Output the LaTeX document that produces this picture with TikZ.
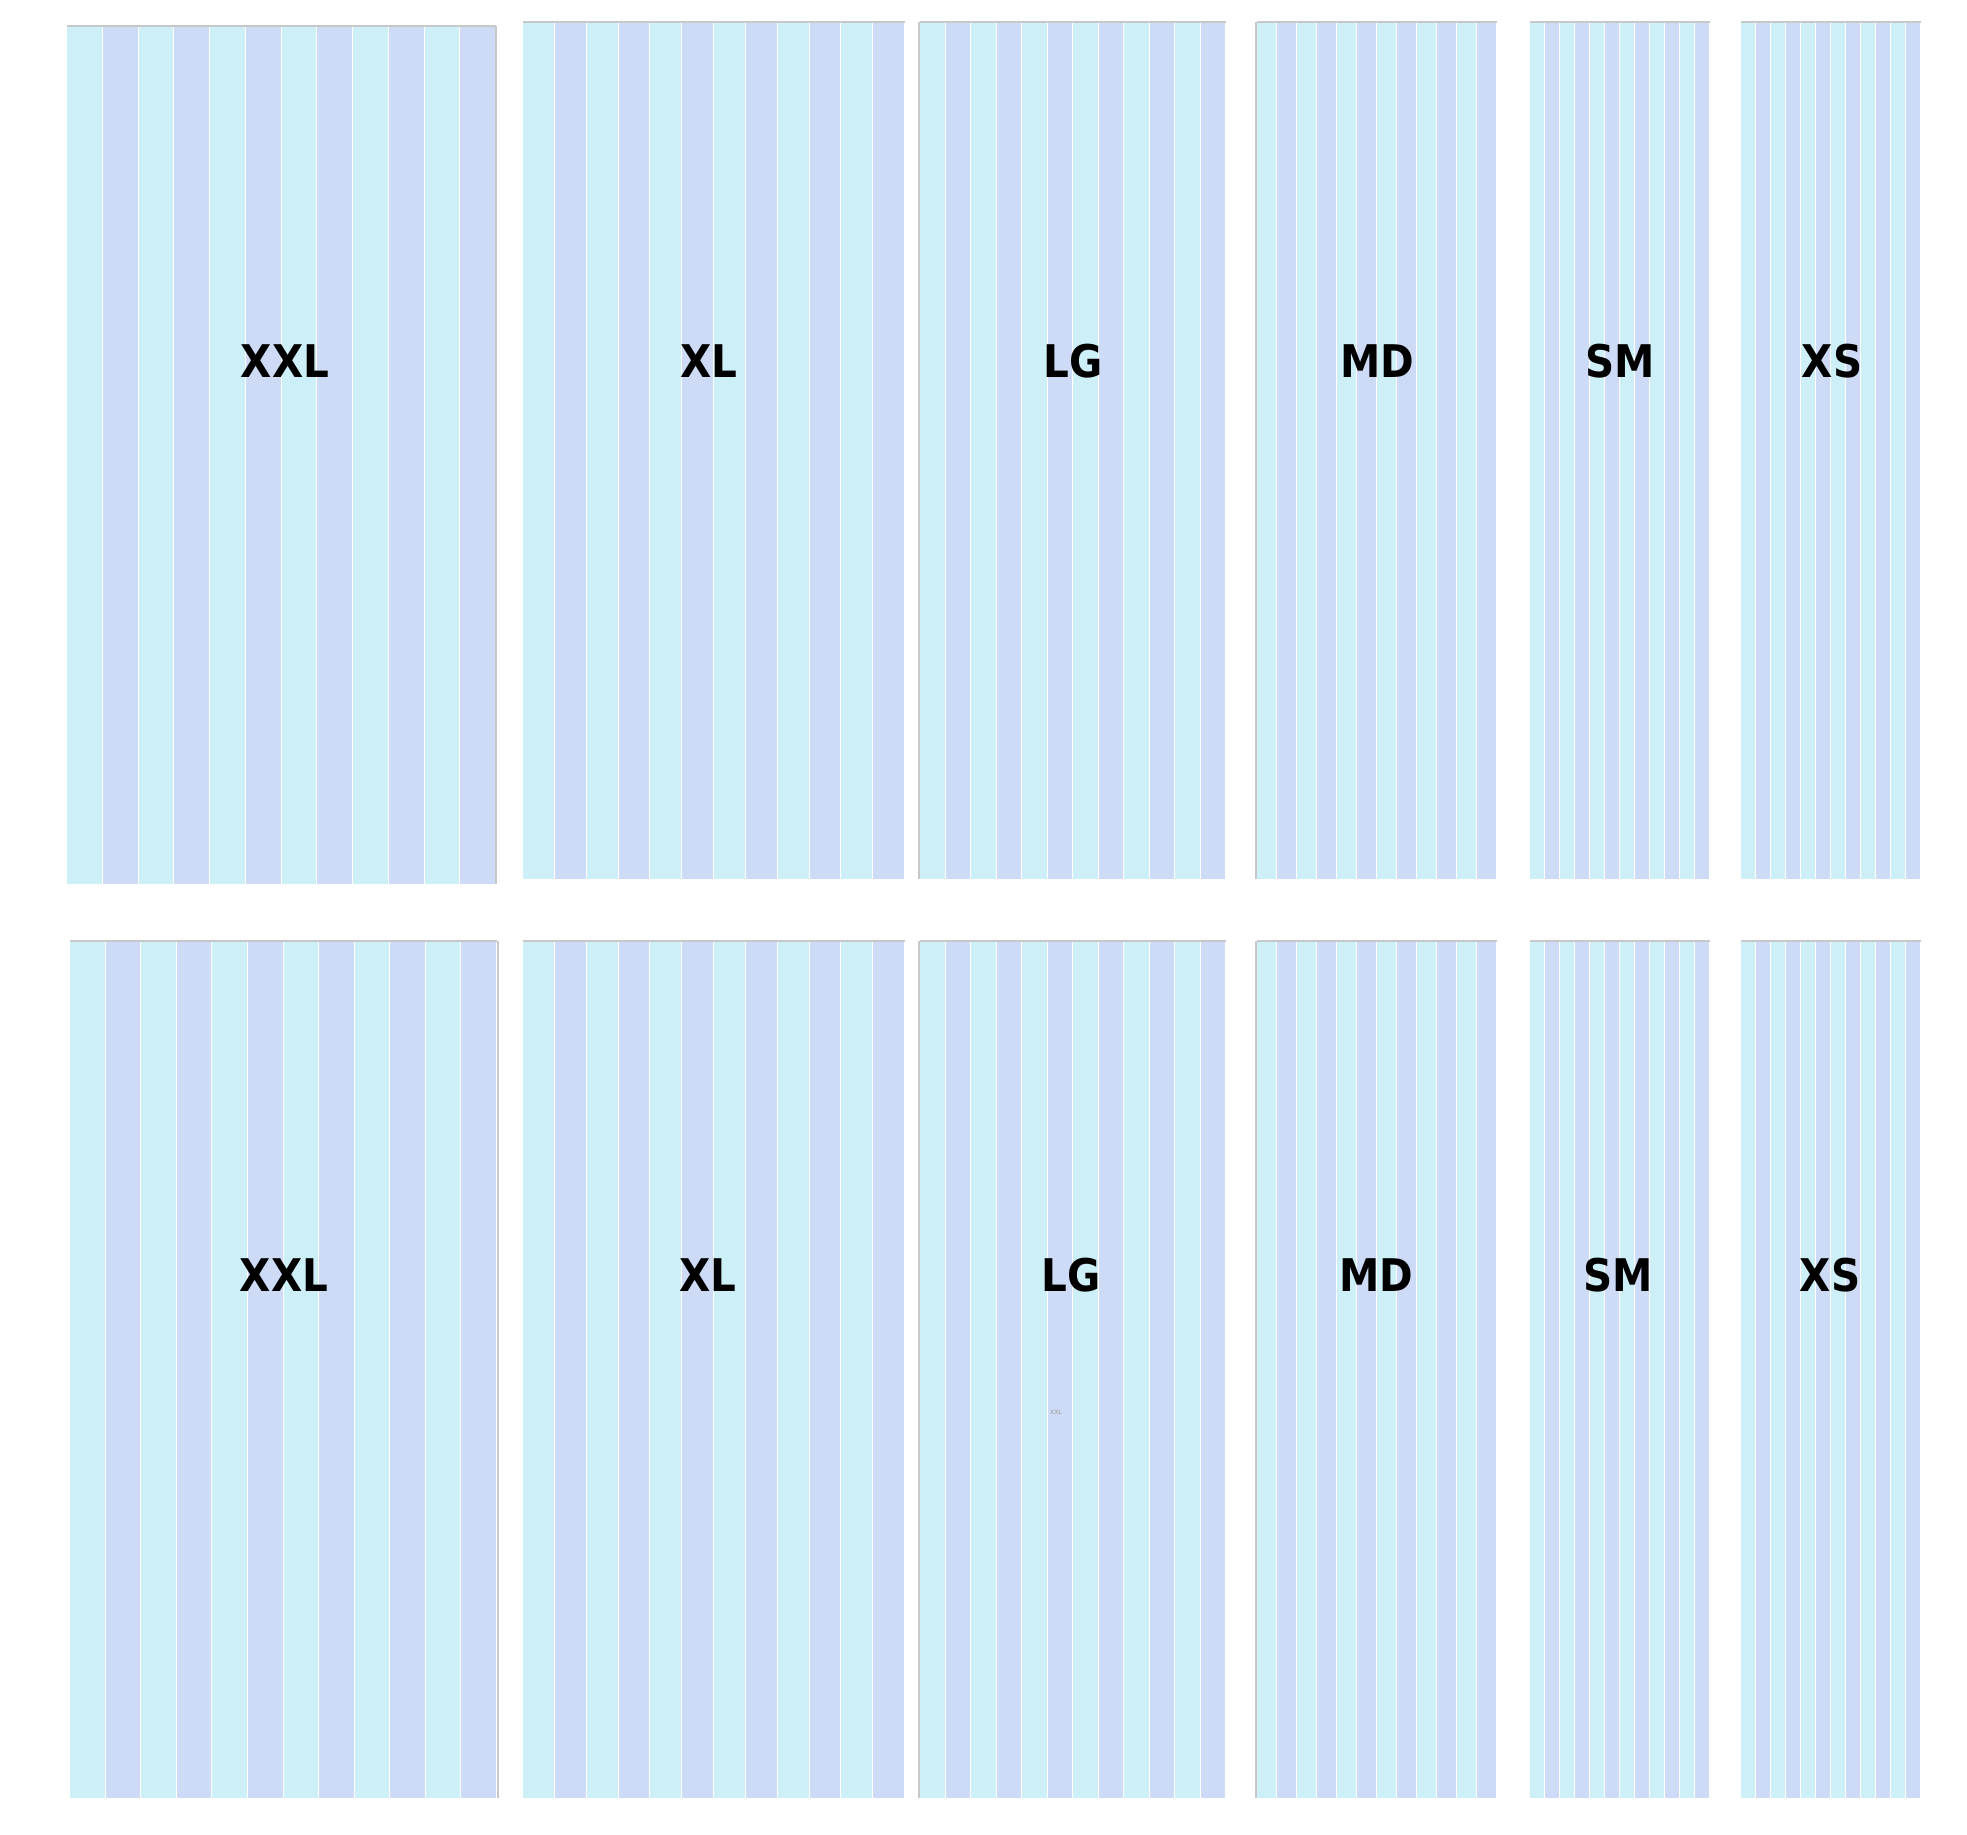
\documentclass[tikz,border=0pt]{standalone}
\usepackage{fontspec}
\setmainfont{DejaVu Sans}
\newfontfamily\condfont{DejaVu Sans Condensed}
\definecolor{stc}{HTML}{CCEFF8}
\definecolor{stl}{HTML}{CEDBF6}
\definecolor{frm}{HTML}{C8C8C8}
\tikzset{
  sizelabel/.style={font=\condfont\fontsize{45}{50}\selectfont\bfseries, text=black, inner sep=0pt},
  frameline/.style={draw=frm, line width=1.5pt},
  tinytext/.style={font=\fontsize{6}{7}\selectfont, text=gray!80, inner sep=0pt}
}
% \sizepanel{x0}{x1}{y0}{y1}{label}{name}{label x}{label y}
\newcommand{\sizepanel}[8]{%
  \pgfmathsetmacro{\pw}{(#2-#1)/12}
  \foreach \i in {0,...,11}{%
    \pgfmathtruncatemacro{\odd}{mod(\i,2)}
    \ifnum\odd=0 \def\fc{stc}\else\def\fc{stl}\fi
    \fill[\fc] ({#1+\i*\pw},#3) rectangle ({#1+(\i+1)*\pw-1},#4);
  }
  \draw[frameline] (#1,#3) -- (#2,#3);
  \node[sizelabel] (#6) at (#7,#8) {#5};
}
\begin{document}
\begin{tikzpicture}[x=1pt,y=-1pt]
\useasboundingbox (0,0) rectangle (1967,1834);
\fill[white] (0,0) rectangle (1967,1834);
% top row
\sizepanel{67}{496}{26}{884}{XXL}{t1}{285}{361}
\draw[frameline] (496,26) -- (496,884);
\sizepanel{523}{905}{22}{879}{XL}{t2}{709}{361}
\sizepanel{920}{1226}{22}{879}{LG}{t3}{1073}{361}
\draw[frameline] (919,22) -- (919,879);
\sizepanel{1257}{1497}{22}{879}{MD}{t4}{1377}{361}
\draw[frameline] (1256,22) -- (1256,879);
\sizepanel{1530}{1710}{22}{879}{SM}{t5}{1620}{361}
\sizepanel{1741}{1921}{22}{879}{XS}{t6}{1832}{361}
% bottom row
\sizepanel{70}{497}{941}{1798}{XXL}{b1}{284}{1275}
\draw[frameline] (498,941) -- (498,1798);
\sizepanel{523}{905}{941}{1798}{XL}{b2}{708}{1275}
\sizepanel{920}{1226}{941}{1798}{LG}{b3}{1071}{1275}
\draw[frameline] (919,941) -- (919,1798);
\sizepanel{1257}{1497}{941}{1798}{MD}{b4}{1376}{1275}
\draw[frameline] (1256,941) -- (1256,1798);
\sizepanel{1530}{1710}{941}{1798}{SM}{b5}{1618}{1275}
\sizepanel{1741}{1921}{941}{1798}{XS}{b6}{1830}{1275}
\node[tinytext] (tiny) at (1056,1412) {XXL};
\end{tikzpicture}
\end{document}
